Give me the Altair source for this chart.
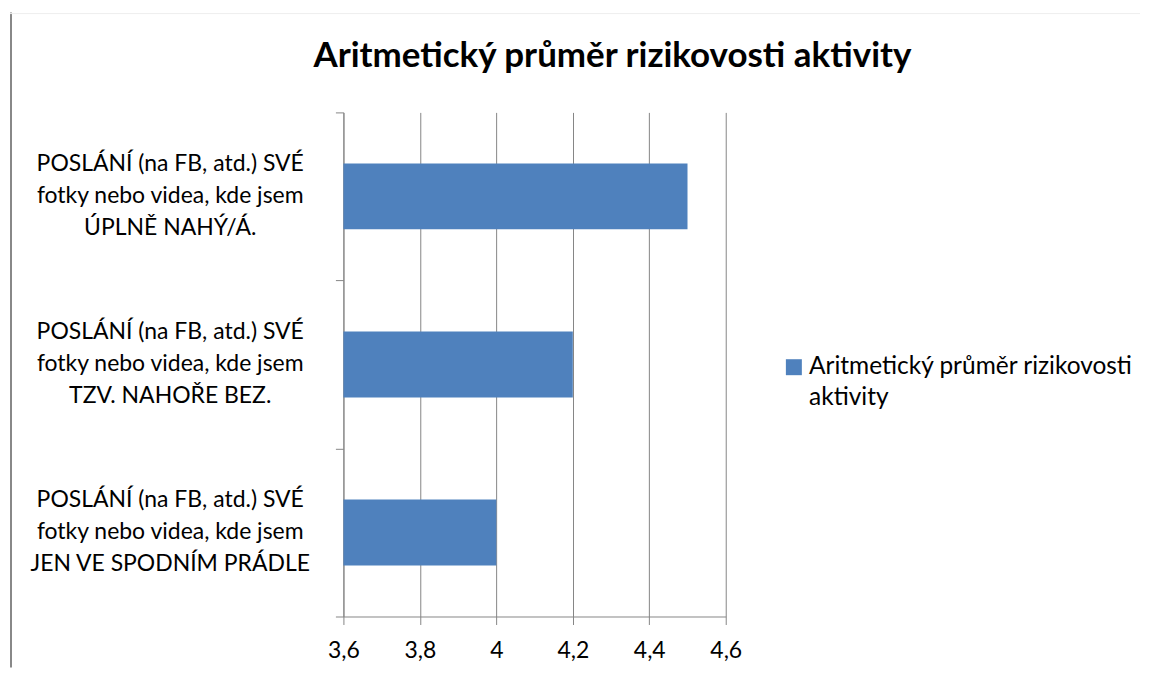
import altair as alt
import pandas as pd

# ---- data ----
categories = [
    "POSLÁNÍ (na FB, atd.) SVÉ\nfotky nebo videa, kde jsem\nÚPLNĚ NAHÝ/Á.",
    "POSLÁNÍ (na FB, atd.) SVÉ\nfotky nebo videa, kde jsem\nTZV. NAHOŘE BEZ.",
    "POSLÁNÍ (na FB, atd.) SVÉ\nfotky nebo videa, kde jsem\nJEN VE SPODNÍM PRÁDLE",
]
values = [4.5, 4.2, 4.0]
series_name = "Aritmetický průměr rizikovosti aktivity"
x_ticks = [3.6, 3.8, 4.0, 4.2, 4.4, 4.6]
title_text = "Aritmetický průměr rizikovosti aktivity"

df = pd.DataFrame({"cat": categories, "value": values, "series": series_name})

FONT = "Lato"
BLUE = "#4F81BD"
GRID = "#868686"

split_at = series_name.index(" aktivity")
legend_label_expr = (
    f"[substring(datum.label, 0, {split_at}), substring(datum.label, {split_at + 1})]"
)

bars = alt.Chart(df).mark_bar(color=BLUE, height={"band": 0.392}).encode(
    y=alt.Y(
        "cat:N",
        sort=None,
        scale=alt.Scale(paddingInner=0, paddingOuter=0),
        axis=alt.Axis(
            title=None,
            labelExpr="split(datum.label, '\\n')",
            labelAlign="center",
            labelBaseline="middle",
            labelLineHeight=32,
            labelOffset=-33,
            labelFont=FONT,
            labelFontSize=23,
            labelColor="#000000",
            labelPadding=166,
            labelLimit=400,
            tickBand="extent",
            tickSize=8,
            tickColor=GRID,
            domainColor=GRID,
            grid=False,
        ),
    ),
    x=alt.X(
        "value:Q",
        scale=alt.Scale(domain=[x_ticks[0], x_ticks[-1]], zero=False, nice=False),
        axis=alt.Axis(
            title=None,
            values=x_ticks,
            labelExpr="replace(format(datum.value, '.1~f'), '.', ',')",
            labelFont=FONT,
            labelFontSize=23,
            labelColor="#000000",
            labelPadding=15,
            labelFlush=False,
            tickSize=8,
            tickColor=GRID,
            domainColor=GRID,
            gridColor=GRID,
            grid=True,
        ),
    ),
    x2=alt.datum(x_ticks[0]),
    color=alt.Color(
        "series:N",
        scale=alt.Scale(range=[BLUE]),
        legend=alt.Legend(
            title=None,
            orient="none",
            legendX=439,
            legendY=243,
            symbolType="square",
            symbolSize=256,
            symbolStrokeWidth=0,
            labelExpr=legend_label_expr,
            labelFont=FONT,
            labelFontSize=24.5,
            labelColor="#000000",
            labelLimit=500,
            labelOffset=3,
        ),
    ),
)

border_data = alt.Data(values=[{"k": 1}])
left_border = alt.Chart(border_data).mark_rule(color="#888888", strokeWidth=2).encode(
    x=alt.value(-333), y=alt.value(-100), y2=alt.value(556)
)
top_border = alt.Chart(border_data).mark_rule(color="#EEEEEE", strokeWidth=1).encode(
    x=alt.value(-334), x2=alt.value(798), y=alt.value(-99)
)

chart = (
    alt.layer(bars, left_border, top_border)
    .properties(
        width=383,
        height=505,
        padding={"left": 1, "top": 3, "right": 0, "bottom": 0},
        title=alt.Title(
            title_text,
            font=FONT,
            fontSize=35,
            fontWeight="bold",
            color="#000000",
            anchor="middle",
            dx=78,
            dy=67,
        ),
    )
    .configure(style={"guide-label": {"lineHeight": 31}})
    .configure_view(stroke=None)
)

chart.save("out.html", embed_options={"renderer": "svg", "actions": False})
